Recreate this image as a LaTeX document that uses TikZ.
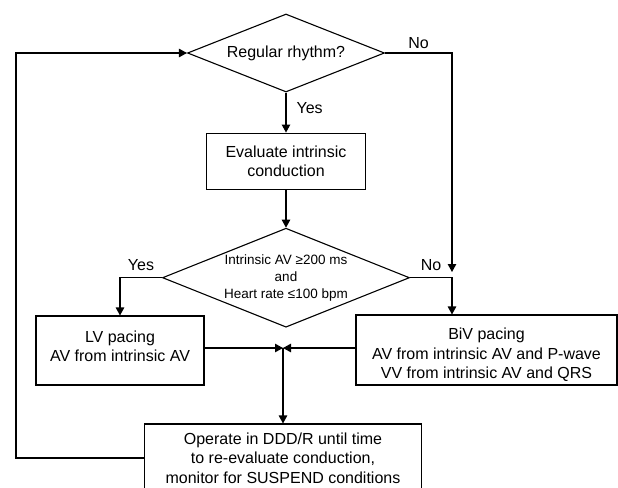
\documentclass[tikz,border=0pt]{standalone}
\usepackage{fontspec}
\setmainfont{Liberation Sans}
\usetikzlibrary{arrows.meta, positioning, shapes.geometric}

\begin{document}
\begin{tikzpicture}[x=1pt, y=-1pt, line width=1.1pt,
  stepbox/.style={draw, align=center, inner sep=0pt, font=\fontsize{16}{19.5}\selectfont},
  decision/.style={draw, diamond, align=center, inner sep=0pt, font=\fontsize{16}{19.5}\selectfont},
  flow/.style={-{Triangle[length=8pt, width=8.5pt]}},
  lbl/.style={font=\fontsize{16}{19.5}\selectfont, inner sep=2pt},
  node distance=40pt]

	\useasboundingbox (0,0) rectangle (618,487);

	% Rhythm check
	\node[decision, aspect=2.5, minimum width=197pt, minimum height=78pt] (rhythm) at (286,53) {Regular rhythm?};
	\node[stepbox, minimum width=159pt, minimum height=56pt, below=40pt of rhythm] (eval) {Evaluate intrinsic\\conduction};

	% Conduction check
	\node[decision, aspect=2.5, minimum width=247pt, minimum height=99pt, font=\fontsize{13.5}{17}\selectfont, below=38pt of eval] (cond) {Intrinsic AV ≥200 ms\\and\\Heart rate ≤100 bpm};

	% Pacing modes
	\node[stepbox, minimum width=168pt, minimum height=69pt] (lv) at (120,350.5) {\rule{0pt}{22pt}LV pacing\\AV from intrinsic AV\\~};
	\node[stepbox, minimum width=261pt, minimum height=70pt] (biv) at (486.5,350) {\rule{0pt}{22pt}BiV pacing\\AV from intrinsic AV and P-wave\\VV from intrinsic AV and QRS};

	% Operate until re-evaluation
	\node[stepbox, minimum width=277pt, minimum height=68pt] (operate) at (283,458) {Operate in DDD/R until time\\to re-evaluate conduction,\\monitor for SUSPEND conditions};

	% Helper points
	\coordinate (nojoin) at (452,272);
	\coordinate (merge) at (283,348);
	\coordinate (loopx) at (16,250);

	% Connectors
	\draw[flow] (rhythm.south) -- node[lbl, right=8pt, pos=0.4] {Yes} (rhythm.south |- eval.north);
	\draw[flow] (rhythm.east) -- node[lbl, above=2pt] {No} (rhythm.east -| nojoin) -- (nojoin);
	\draw[flow] (eval.south) -- (eval.south |- cond.north);
	\draw[flow] (cond.west) -- node[lbl, above=4pt] {Yes} (cond.west -| lv.north) -- (lv.north);
	\draw[flow] (cond.east) -- node[lbl, above=4pt] {No} (cond.east -| nojoin) -- (biv.north -| nojoin);
	\draw[flow] (lv.east |- merge) -- (merge);
	\draw[flow] (biv.west |- merge) -- (merge);
	\draw[flow] (merge) -- (merge |- operate.north);
	\draw[flow] (operate.west) -| (loopx) |- (rhythm.west);

\end{tikzpicture}
\end{document}
